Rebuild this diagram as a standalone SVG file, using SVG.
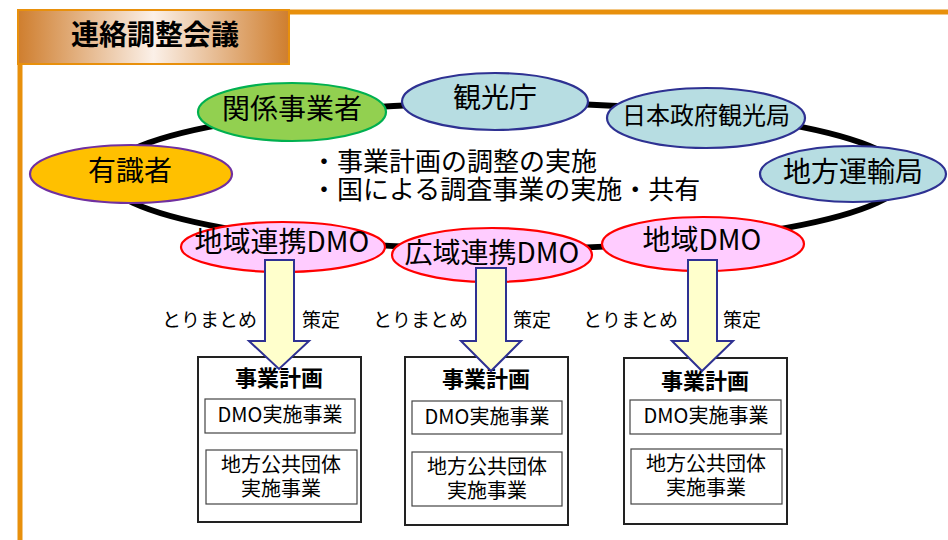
<svg xmlns="http://www.w3.org/2000/svg" width="948" height="540" viewBox="0 0 948 540">
<defs>
<linearGradient id="tg" x1="0" y1="0" x2="1" y2="0">
<stop offset="0" stop-color="#CF7E2E"/>
<stop offset="0.5" stop-color="#FBF0E8"/>
<stop offset="1" stop-color="#CF7E2E"/>
</linearGradient>
<style>
text{font-family:"Noto Sans CJK JP","Noto Sans",sans-serif;fill:#000}
.n{font-size:28px;text-anchor:middle}
.s{font-size:24px}
.e{stroke-width:2.2}
.org{fill:#FFC000;stroke:#7030A0}
.grn{fill:#92D050;stroke:#00B050}
.blu{fill:#B7DDE2;stroke:#2E3192}
.dmo{fill:#FFCCFF;stroke:#FF0000}
.arr{fill:#FFFFCC;stroke:#2E3192;stroke-width:2}
.box{fill:#fff;stroke:#222;stroke-width:2}
.ib{fill:#fff;stroke:#444;stroke-width:1.2}
.lb{font-size:19px}
.nt{font-size:26px}
.bt{font-size:22px;font-weight:bold;text-anchor:middle}
.it{font-size:20px;text-anchor:middle}
</style>
</defs>
<rect width="948" height="540" fill="#fff"/>
<g id="frame">
<line x1="17" y1="12" x2="948" y2="12" stroke="#E8900C" stroke-width="5"/>
<line x1="20" y1="10" x2="20" y2="540" stroke="#E8900C" stroke-width="5"/>
<rect x="18" y="10" width="271" height="54" fill="url(#tg)" stroke="#E8900C" stroke-width="2"/>
<text x="155" y="45" font-size="28" font-weight="bold" text-anchor="middle">連絡調整会議</text>
</g>
<g id="connectors">
<ellipse cx="505" cy="176" rx="400" ry="73" fill="none" stroke="#000" stroke-width="6"/>
</g>
<g id="n1"><ellipse class="e org" cx="131" cy="174" rx="101" ry="29"/><text class="n" x="130" y="181">有識者</text></g>
<g id="n2"><ellipse class="e grn" cx="292" cy="112" rx="94" ry="29"/><text class="n" x="292" y="119">関係事業者</text></g>
<g id="n3"><ellipse class="e blu" cx="495" cy="101.5" rx="93" ry="28.5"/><text class="n" x="495" y="108">観光庁</text></g>
<g id="n4"><ellipse class="e blu" cx="706" cy="118" rx="99" ry="30"/><text class="n s" x="706" y="124">日本政府観光局</text></g>
<g id="n5"><ellipse class="e blu" cx="853" cy="174" rx="93" ry="28"/><text class="n" x="853" y="182">地方運輸局</text></g>
<g id="n6"><ellipse class="e dmo" cx="283" cy="247" rx="102" ry="25"/><text class="n" x="282" y="252">地域連携DMO</text></g>
<g id="n7"><ellipse class="e dmo" cx="492" cy="255" rx="100" ry="27"/><text class="n" x="492" y="263">広域連携DMO</text></g>
<g id="n8"><ellipse class="e dmo" cx="703" cy="244" rx="101" ry="27"/><text class="n" x="702" y="250">地域DMO</text></g>
<g id="note">
<text class="nt" x="311" y="171">・事業計画の調整の実施</text>
<text class="nt" x="311" y="199">・国による調査事業の実施・共有</text>
</g>
<g id="plan1">
<rect class="box" x="198" y="357" width="163" height="165"/>
<text class="bt" x="279" y="386">事業計画</text>
<rect class="ib" x="205" y="399" width="150" height="34"/>
<text class="it" x="280" y="422">DMO実施事業</text>
<rect class="ib" x="206" y="450" width="151" height="54"/>
<text class="it" x="281" y="472">地方公共団体</text>
<text class="it" x="281" y="496">実施事業</text>
</g>
<g id="plan2">
<rect class="box" x="405" y="357" width="163" height="168"/>
<text class="bt" x="486" y="387">事業計画</text>
<rect class="ib" x="412" y="401" width="150" height="33"/>
<text class="it" x="487" y="424">DMO実施事業</text>
<rect class="ib" x="412" y="452" width="150" height="54"/>
<text class="it" x="487" y="474">地方公共団体</text>
<text class="it" x="487" y="498">実施事業</text>
</g>
<g id="plan3">
<rect class="box" x="624" y="358" width="163" height="166"/>
<text class="bt" x="705" y="389">事業計画</text>
<rect class="ib" x="630" y="400" width="151" height="34"/>
<text class="it" x="706" y="423">DMO実施事業</text>
<rect class="ib" x="631" y="449" width="151" height="55"/>
<text class="it" x="706" y="471">地方公共団体</text>
<text class="it" x="706" y="495">実施事業</text>
</g>
<g id="arrows">
<path class="arr" d="M265,260 H294 V341 H309 L279,369 L249,341 H265 Z"/>
<path class="arr" d="M476,268 H506 V341 H521 L491,371 L461,341 H476 Z"/>
<path class="arr" d="M688,260 H717 V341 H733 L702,371 L672,341 H688 Z"/>
</g>
<g id="labels">
<text class="lb" x="162" y="327">とりまとめ</text>
<text class="lb" x="302" y="327">策定</text>
<text class="lb" x="373" y="327">とりまとめ</text>
<text class="lb" x="513" y="327">策定</text>
<text class="lb" x="583" y="327">とりまとめ</text>
<text class="lb" x="723" y="327">策定</text>
</g>
</svg>
